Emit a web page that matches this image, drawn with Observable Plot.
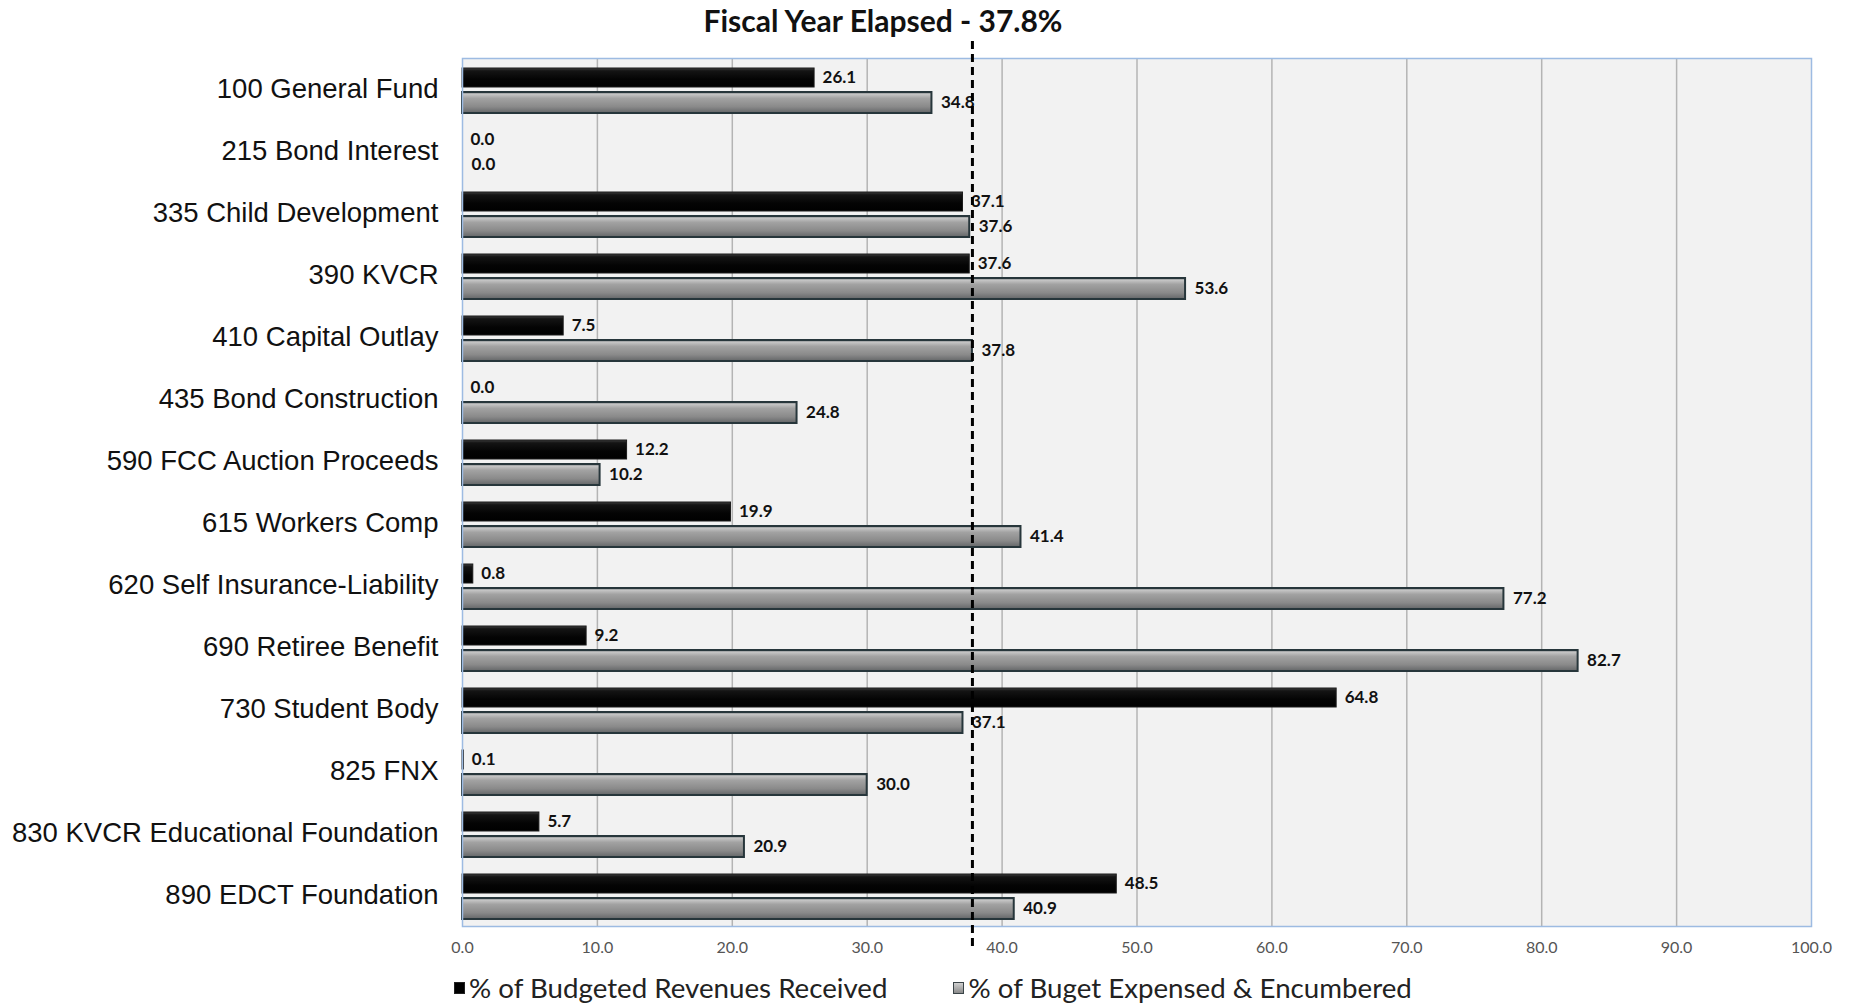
<!DOCTYPE html>
<html>
<head>
<meta charset="utf-8">
<script src="https://cdn.jsdelivr.net/npm/d3@7"></script>
<script src="https://cdn.jsdelivr.net/npm/@observablehq/plot@0.6"></script>
<style>
  html, body { margin: 0; padding: 0; background: #fff; }
  #wrap { position: relative; width: 1857px; height: 1004px; overflow: hidden; }
  #title { position: absolute; left: 0; width: 1766px; top: 2px; text-align: center;
           font-family: Lato, "DejaVu Sans", sans-serif; font-weight: 700; font-size: 30px; color: #111; }
  #chart { position: absolute; left: 0; top: 0; }
  #legend { position: absolute; top: 971px; left: 454px; font-family: Lato, "DejaVu Sans", sans-serif;
            font-size: 27.7px; color: #222; display: flex; gap: 66px; white-space: nowrap; }
  .item { display: flex; align-items: center; }
  .sw { display: inline-block; width: 11px; height: 12px; margin-right: 4px; box-sizing: border-box; }
</style>
</head>
<body>
<div id="wrap">
  <div id="chart"></div>
  <div id="title"></div>
  <div id="legend"></div>
</div>
<script>
const categories = [
  "100 General Fund", "215 Bond Interest", "335 Child Development", "390 KVCR",
  "410 Capital Outlay", "435 Bond Construction", "590 FCC Auction Proceeds",
  "615 Workers Comp", "620 Self Insurance-Liability", "690 Retiree Benefit",
  "730 Student Body", "825 FNX", "830 KVCR Educational Foundation", "890 EDCT Foundation"
];
const revenuesReceived = [26.1, 0.0, 37.1, 37.6, 7.5, 0.0, 12.2, 19.9, 0.8, 9.2, 64.8, 0.1, 5.7, 48.5];
const budgetExpensed  = [34.8, 0.0, 37.6, 53.6, 37.8, 24.8, 10.2, 41.4, 77.2, 82.7, 37.1, 30.0, 20.9, 40.9];
const seriesNames = ["% of Budgeted Revenues Received", "% of Buget Expensed & Encumbered"];
const fiscalYearElapsed = 37.8;
const titleText = "Fiscal Year Elapsed - 37.8%";
const xTicks = [0, 10, 20, 30, 40, 50, 60, 70, 80, 90, 100];

const rev = categories.map((c, i) => ({category: c, value: revenuesReceived[i]}));
const exp = categories.map((c, i) => ({category: c, value: budgetExpensed[i]}));

const NS = "http://www.w3.org/2000/svg";
function defs() {
  const d = document.createElementNS(NS, "defs");
  const mk = (id, stops) => {
    const g = document.createElementNS(NS, "linearGradient");
    g.setAttribute("id", id);
    g.setAttribute("x1", "0"); g.setAttribute("y1", "0");
    g.setAttribute("x2", "0"); g.setAttribute("y2", "1");
    for (const [o, c] of stops) {
      const s = document.createElementNS(NS, "stop");
      s.setAttribute("offset", o); s.setAttribute("stop-color", c);
      g.appendChild(s);
    }
    d.appendChild(g);
  };
  mk("gradGray", [["0%", "#5c6568"], ["10%", "#c6c6c6"], ["30%", "#a2a2a2"], ["70%", "#8a8a8a"], ["100%", "#646668"]]);
  mk("gradBlack", [["0%", "#3e3e3e"], ["15%", "#141414"], ["60%", "#040404"], ["100%", "#000"]]);
  return d;
}

const labelFont = "Lato, DejaVu Sans, sans-serif";

const plot = Plot.plot({
  width: 1857,
  height: 960,
  marginTop: 58,
  marginBottom: 34,
  marginLeft: 462,
  marginRight: 46,
  style: {background: "transparent", overflow: "visible"},
  x: {domain: [0, 100], ticks: xTicks, tickFormat: d => d.toFixed(1), tickSize: 0, tickPadding: 15, label: null},
  y: {domain: categories, padding: 0, tickSize: 0, tickPadding: 24, label: null},
  marks: [
    defs,
    Plot.frame({fill: "#f2f2f2", stroke: null}),
    Plot.ruleX(xTicks.slice(1, -1), {stroke: "#b4b4b4", strokeWidth: 1.5}),
    Plot.barX(rev, {x: "value", y: "category", fill: "url(#gradBlack)", stroke: "#1a1a1a", strokeWidth: 1,
      insetTop: 10, insetBottom: 33}),
    Plot.barX(exp, {x: "value", y: "category", fill: "url(#gradGray)", stroke: "#27363b", strokeWidth: 2,
      insetTop: 34, insetBottom: 7}),
    Plot.text(rev, {x: "value", y: "category", text: d => d.value.toFixed(1), dx: 8, dy: -12,
      textAnchor: "start", fill: "#111", fontWeight: "bold", fontSize: 17, fontFamily: labelFont}),
    Plot.text(exp, {x: "value", y: "category", text: d => d.value.toFixed(1), dx: 9, dy: 13,
      textAnchor: "start", fill: "#111", fontWeight: "bold", fontSize: 17, fontFamily: labelFont}),
    Plot.frame({stroke: "#9dbbe2", strokeWidth: 1.5, fill: "none"}),
    Plot.ruleX([fiscalYearElapsed], {stroke: "#000", strokeWidth: 3, strokeDasharray: "8,5",
      insetTop: -17, insetBottom: -21})
  ]
});

plot.querySelectorAll('[aria-label="y-axis tick label"]').forEach(el => {
  el.setAttribute("font-size", "27.5");
  el.setAttribute("font-family", "'Liberation Sans', Arial, sans-serif");
  el.setAttribute("fill", "#111");
});
plot.querySelectorAll('[aria-label="x-axis tick label"]').forEach(el => {
  el.setAttribute("font-size", "16");
  el.setAttribute("font-family", "Lato, 'DejaVu Sans', sans-serif");
  el.setAttribute("fill", "#555");
});

document.getElementById("chart").appendChild(plot);
document.getElementById("title").textContent = titleText;

const legend = document.getElementById("legend");
const swStyles = [
  "background:#000;border:1px solid #222;",
  "background:linear-gradient(#d0d0d0,#8a8a8a);border:1.5px solid #3a4448;"
];
seriesNames.forEach((name, i) => {
  const it = document.createElement("div");
  it.className = "item";
  const sw = document.createElement("span");
  sw.className = "sw";
  sw.setAttribute("style", swStyles[i]);
  const t = document.createElement("span");
  t.textContent = name;
  it.appendChild(sw); it.appendChild(t);
  legend.appendChild(it);
});
</script>
</body>
</html>
